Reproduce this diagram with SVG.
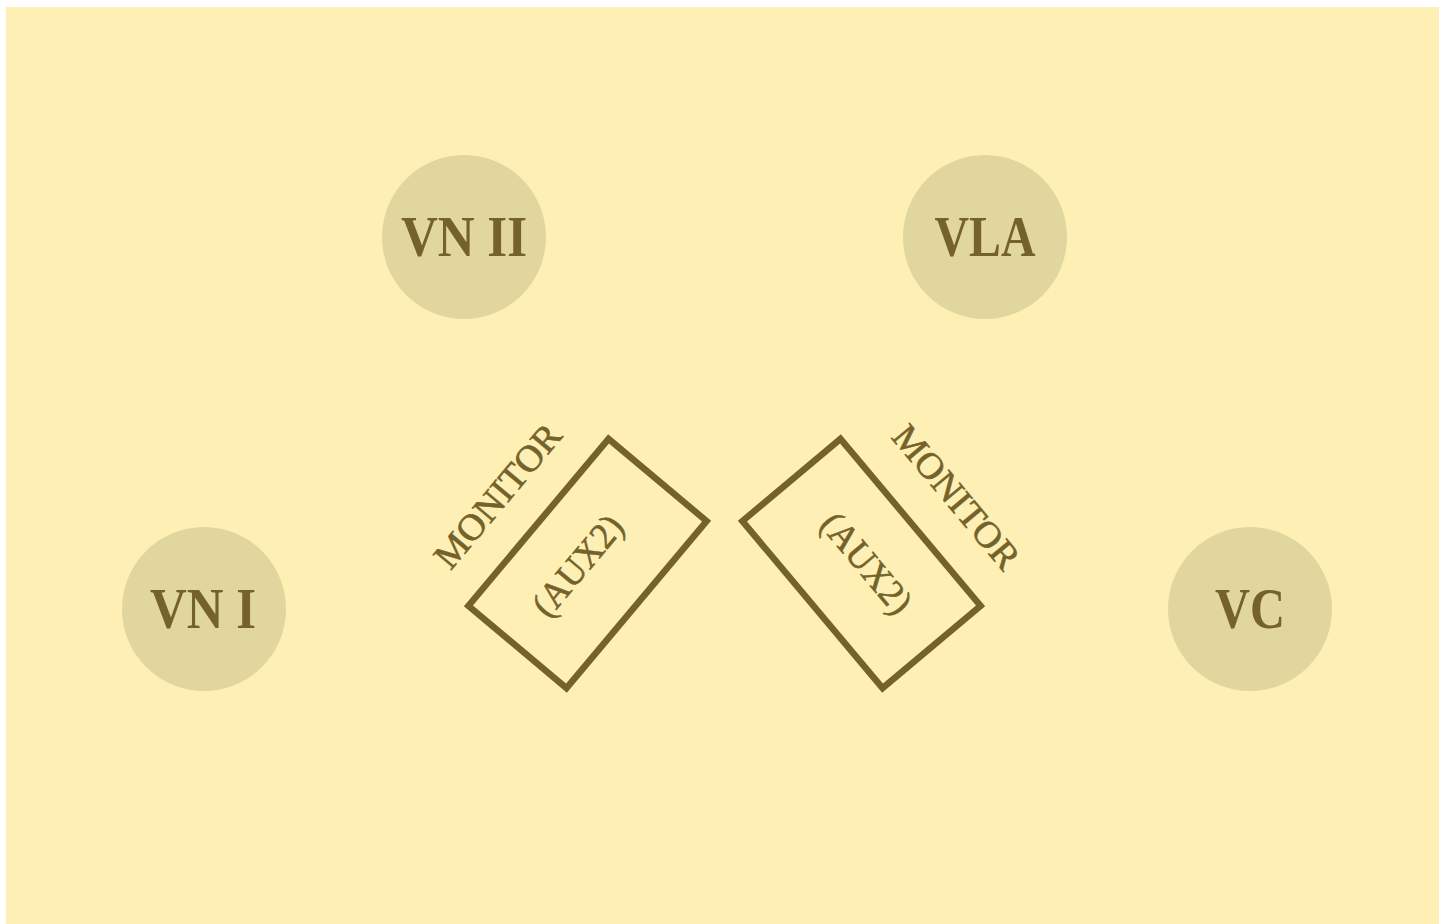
<svg xmlns="http://www.w3.org/2000/svg" width="1451" height="924" viewBox="0 0 1451 924">
<style>
.bg{fill:#FEF0B5}
.seat{fill:#E0D69E}
.lbl{font-family:"Liberation Serif","DejaVu Serif",serif;font-size:58px;font-weight:bold;fill:#75622A;text-anchor:middle}
.mon{fill:none;stroke:#75622A;stroke-width:6.5}
.mt{font-family:"Liberation Serif","DejaVu Serif",serif;font-size:37px;fill:#75622A;stroke:#75622A;stroke-width:0.6;text-anchor:middle}
</style>
<rect x="0" y="0" width="1451" height="924" fill="#FFFFFF"/>
<rect class="bg" x="6" y="7" width="1433" height="917"/>
<g id="vn2">
<circle class="seat" cx="464" cy="237" r="82"/>
<text class="lbl" x="464" y="256" textLength="126" lengthAdjust="spacingAndGlyphs">VN II</text>
</g>
<g id="vla">
<circle class="seat" cx="985" cy="237" r="82"/>
<text class="lbl" x="985" y="256" textLength="101" lengthAdjust="spacingAndGlyphs">VLA</text>
</g>
<g id="vn1">
<circle class="seat" cx="204" cy="609" r="82"/>
<text class="lbl" x="203" y="628" textLength="106" lengthAdjust="spacingAndGlyphs">VN I</text>
</g>
<g id="vc">
<circle class="seat" cx="1250" cy="609" r="82"/>
<text class="lbl" x="1250" y="628" textLength="70" lengthAdjust="spacingAndGlyphs">VC</text>
</g>
<g id="monitor-left" transform="translate(587.5,563.5) rotate(-50)">
<rect class="mon" x="-109" y="-64" width="218" height="128"/>
<text class="mt" x="-6" y="-100" textLength="176" lengthAdjust="spacingAndGlyphs">MONITOR</text>
<text class="mt" x="-8" y="6" textLength="120" lengthAdjust="spacingAndGlyphs">(AUX2)</text>
</g>
<g id="monitor-right" transform="translate(861.5,563.5) rotate(50)">
<rect class="mon" x="-109" y="-64" width="218" height="128"/>
<text class="mt" x="10" y="-103" textLength="176" lengthAdjust="spacingAndGlyphs">MONITOR</text>
<text class="mt" x="3" y="8" textLength="120" lengthAdjust="spacingAndGlyphs">(AUX2)</text>
</g>
<g id="connectors"/>
</svg>
